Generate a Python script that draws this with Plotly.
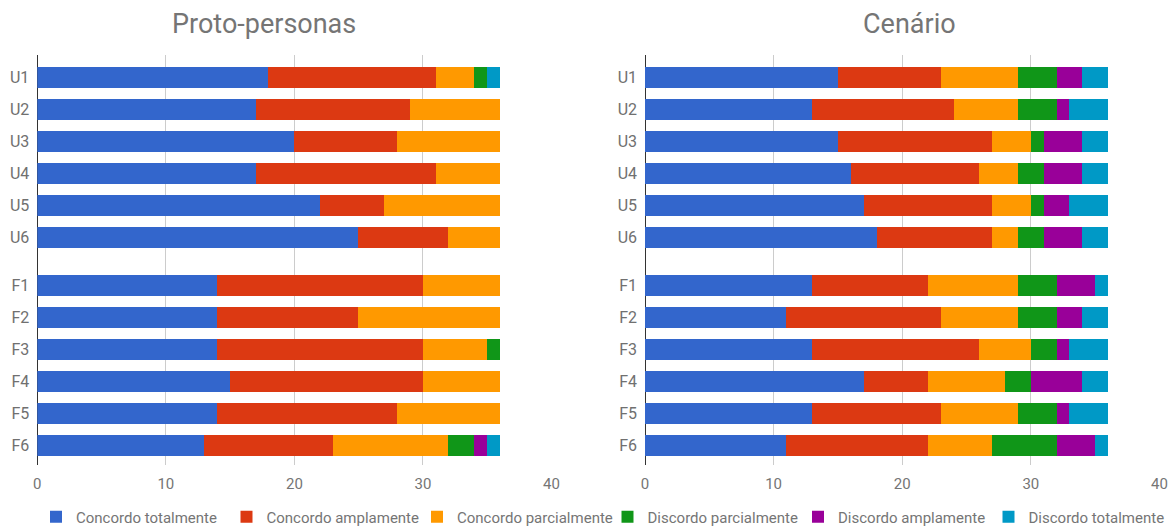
import plotly.graph_objects as go

# Response categories (Likert scale) and their colours
responses = [
    "Concordo totalmente",
    "Concordo amplamente",
    "Concordo parcialmente",
    "Discordo parcialmente",
    "Discordo amplamente",
    "Discordo totalmente",
]
colors = ["#3366cc", "#dc3912", "#ff9900", "#109618", "#990099", "#0099c6"]

# Statements: users (U) and features (F)
u_labels = ["U1", "U2", "U3", "U4", "U5", "U6"]
f_labels = ["F1", "F2", "F3", "F4", "F5", "F6"]

# Proto-personas: counts per response, order U1..U6, F1..F6
proto_concordo_totalmente = [18, 17, 20, 17, 22, 25, 14, 14, 14, 15, 14, 13]
proto_concordo_amplamente = [13, 12, 8, 14, 5, 7, 16, 11, 16, 15, 14, 10]
proto_concordo_parcialmente = [3, 7, 8, 5, 9, 4, 6, 11, 5, 6, 8, 9]
proto_discordo_parcialmente = [1, 0, 0, 0, 0, 0, 0, 0, 1, 0, 0, 2]
proto_discordo_amplamente = [0, 0, 0, 0, 0, 0, 0, 0, 0, 0, 0, 1]
proto_discordo_totalmente = [1, 0, 0, 0, 0, 0, 0, 0, 0, 0, 0, 1]

# Cenário: counts per response, order U1..U6, F1..F6
cen_concordo_totalmente = [15, 13, 15, 16, 17, 18, 13, 11, 13, 17, 13, 11]
cen_concordo_amplamente = [8, 11, 12, 10, 10, 9, 9, 12, 13, 5, 10, 11]
cen_concordo_parcialmente = [6, 5, 3, 3, 3, 2, 7, 6, 4, 6, 6, 5]
cen_discordo_parcialmente = [3, 3, 1, 2, 1, 2, 3, 3, 2, 2, 3, 5]
cen_discordo_amplamente = [2, 1, 3, 3, 2, 3, 3, 2, 1, 4, 1, 3]
cen_discordo_totalmente = [2, 3, 2, 2, 3, 2, 1, 2, 3, 2, 3, 1]

proto = [proto_concordo_totalmente, proto_concordo_amplamente, proto_concordo_parcialmente,
         proto_discordo_parcialmente, proto_discordo_amplamente, proto_discordo_totalmente]
cenario = [cen_concordo_totalmente, cen_concordo_amplamente, cen_concordo_parcialmente,
           cen_discordo_parcialmente, cen_discordo_amplamente, cen_discordo_totalmente]

# Row positions: the two groups are separated by an extra half row
group_gap = 1.5
labels = u_labels + f_labels
rows = [float(i) for i in range(len(u_labels))] + \
       [len(u_labels) - 1 + group_gap + j for j in range(len(f_labels))]

W, H = 1175, 526
fig = go.Figure()

for k, name in enumerate(responses):
    for panel, data in enumerate([proto, cenario]):
        fig.add_trace(go.Bar(
            x=data[k], y=rows, orientation="h",
            name=name, legendgroup=name, showlegend=(panel == 0),
            marker=dict(color=colors[k], line=dict(width=0)),
            width=0.66,
            xaxis="x" if panel == 0 else "x2",
            yaxis="y" if panel == 0 else "y2",
            hovertemplate="%{x}<extra>" + name + "</extra>",
        ))

font_family = "Roboto, Arial, sans-serif"
tick_color = "#757575"
grid_color = "#cccccc"

# Plot area, in pixels from the top of the figure
y_top_px, y_bot_px = 55, 465
y_domain = [1 - y_bot_px / H, 1 - y_top_px / H]
y_range = [rows[-1] + 0.61, -0.70]

xaxis_common = dict(
    range=[0, 40], tickvals=[0, 10, 20, 30, 40],
    showgrid=True, gridcolor=grid_color, gridwidth=1,
    zeroline=True, zerolinecolor="#333333", zerolinewidth=1,
    showline=False, ticks="",
    tickfont=dict(family=font_family, size=15, color=tick_color),
    ticklabelstandoff=8,
    fixedrange=True, automargin=False,
)
yaxis_common = dict(
    range=y_range, tickvals=rows, ticktext=labels,
    showgrid=False, zeroline=False, showline=False, ticks="",
    tickfont=dict(family=font_family, size=16, color="#707070"),
    ticklabelstandoff=7,
    fixedrange=True, automargin=False,
)

fig.update_layout(
    width=W, height=H,
    margin=dict(l=0, r=0, t=0, b=0, autoexpand=False),
    paper_bgcolor="white", plot_bgcolor="white",
    barmode="stack", bargap=0,
    font=dict(family=font_family, color=tick_color),
    xaxis=dict(domain=[37.3 / W, 551.5 / W], anchor="y", **xaxis_common),
    yaxis=dict(domain=y_domain, anchor="x", **yaxis_common),
    xaxis2=dict(domain=[645 / W, 1159.5 / W], anchor="y2", **xaxis_common),
    yaxis2=dict(domain=y_domain, anchor="x2", **yaxis_common),
    legend=dict(
        orientation="h", x=36 / W, xanchor="left", y=1 - 517 / H, yanchor="middle",
        font=dict(family=font_family, size=15, color="#757575"),
        itemsizing="constant", traceorder="normal",
        entrywidthmode="pixels", entrywidth=145.5,
        itemclick=False, itemdoubleclick=False,
    ),
    annotations=[
        dict(text="Proto-personas", x=263.5 / W, y=1 - 23.5 / H, xref="paper", yref="paper",
             xanchor="center", yanchor="middle", showarrow=False,
             font=dict(family=font_family, size=27, color="#757575")),
        dict(text="Cenário", x=909.5 / W, y=1 - 23.5 / H, xref="paper", yref="paper",
             xanchor="center", yanchor="middle", showarrow=False,
             font=dict(family=font_family, size=27, color="#757575")),
    ],
)

fig.write_html("out.html")
